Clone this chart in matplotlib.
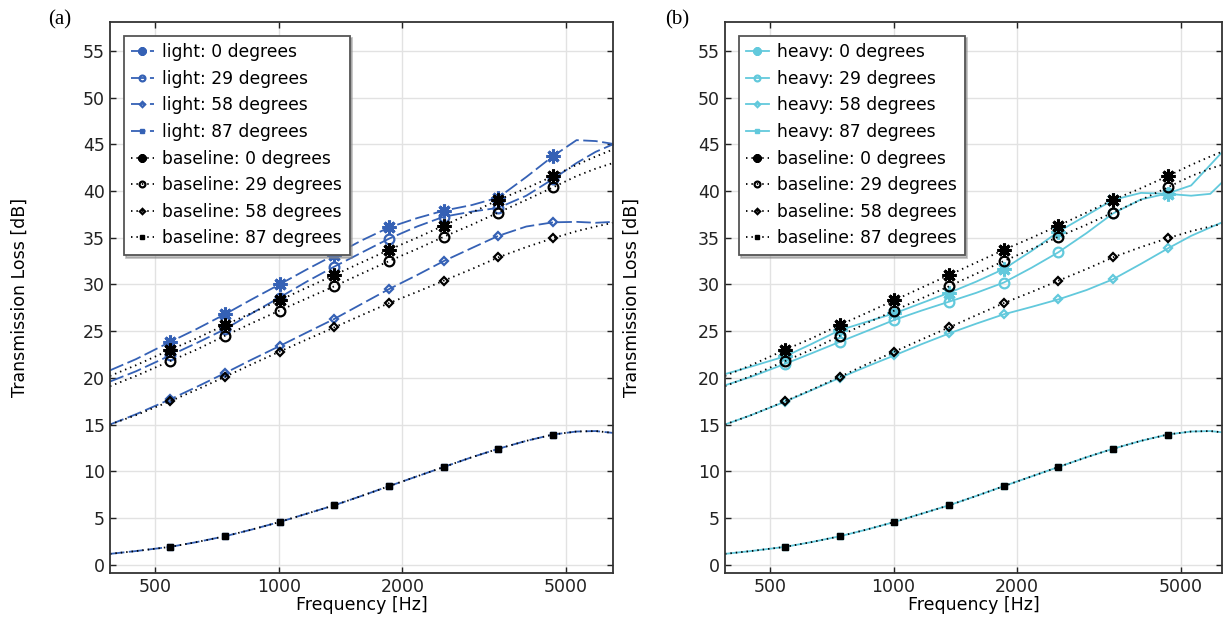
import numpy as np
import matplotlib
matplotlib.use("Agg")
import matplotlib.pyplot as plt
from matplotlib.ticker import FixedLocator, NullLocator

plt.rcParams["font.family"] = ["DejaVu Sans"]

# 频率网格 (Hz) 和标记点所在的下标
freq = [389, 450, 545, 630, 740, 860, 1005, 1170, 1365, 1590,
        1855, 2170, 2520, 2950, 3420, 4000, 4650, 5300, 5900, 6500]
mark_idx = [2, 4, 6, 8, 10, 12, 14, 16]

# baseline (黑色点线)
base_0 = [20.2, 21.35, 23.0, 24.2, 25.65, 26.95, 28.3, 29.65, 31.0, 32.35,
          33.7, 35.0, 36.3, 37.7, 39.05, 40.3, 41.6, 42.8, 43.7, 44.45]
base_29 = [19.1, 20.2, 21.8, 23.0, 24.5, 25.85, 27.2, 28.5, 29.8, 31.15,
           32.5, 33.8, 35.1, 36.4, 37.7, 39.05, 40.4, 41.6, 42.4, 43.0]
base_58 = [15.0, 16.0, 17.5, 18.7, 20.1, 21.45, 22.8, 24.1, 25.4, 26.7,
           28.0, 29.2, 30.4, 31.65, 32.9, 34.0, 34.95, 35.7, 36.2, 36.6]
base_87 = [1.15, 1.45, 1.9, 2.4, 3.03, 3.75, 4.56, 5.45, 6.35, 7.35,
           8.4, 9.45, 10.45, 11.5, 12.4, 13.25, 13.93, 14.25, 14.3, 14.1]

# light (蓝色虚线)
light_0 = [20.8, 22.0, 23.85, 25.2, 26.8, 28.4, 30.0, 31.6, 33.15, 34.7,
           36.1, 37.1, 37.9, 38.5, 39.3, 41.5, 43.75, 45.45, 45.35, 45.05]
light_29 = [19.6, 20.7, 22.4, 23.7, 25.2, 26.9, 28.6, 30.3, 31.9, 33.4,
            34.9, 36.2, 37.25, 37.8, 38.2, 39.5, 41.3, 43.0, 44.2, 45.0]
light_58 = [15.0, 16.1, 17.7, 19.0, 20.5, 21.95, 23.4, 24.85, 26.3, 27.9,
            29.5, 31.0, 32.5, 33.9, 35.2, 36.2, 36.65, 36.7, 36.6, 36.7]
light_87 = [1.15, 1.45, 1.9, 2.4, 3.03, 3.75, 4.56, 5.45, 6.35, 7.35,
            8.4, 9.45, 10.45, 11.5, 12.4, 13.25, 13.93, 14.25, 14.3, 14.1]

# heavy (青色实线)
heavy_0 = [20.4, 21.2, 22.3, 23.6, 25.1, 26.0, 26.9, 28.0, 29.1, 30.3,
           31.65, 33.6, 35.65, 37.4, 39.05, 39.8, 39.7, 39.5, 39.7, 41.5]
heavy_29 = [19.2, 20.1, 21.5, 22.6, 23.85, 25.0, 26.2, 27.2, 28.15, 29.1,
            30.2, 31.8, 33.45, 35.5, 37.6, 39.1, 39.75, 40.6, 42.8, 44.8]
heavy_58 = [15.0, 16.0, 17.45, 18.65, 20.0, 21.2, 22.4, 23.6, 24.75, 25.8,
            26.8, 27.6, 28.4, 29.4, 30.55, 32.2, 33.85, 35.2, 36.1, 36.9]
heavy_87 = [1.15, 1.45, 1.9, 2.4, 3.03, 3.75, 4.56, 5.45, 6.35, 7.35,
            8.4, 9.45, 10.45, 11.5, 12.4, 13.25, 13.93, 14.25, 14.3, 14.1]

angles = [0, 29, 58, 87]
x_ticks = [500, 1000, 2000, 5000]
y_ticks = list(range(0, 60, 5))

LIGHT_C = "#3561b5"
HEAVY_C = "#62c9dc"
GRID_C = "#e2e2e2"
FS = 12.5

# 每个角度对应的标记
markers = [
    dict(marker=(8, 2, 0), markersize=10, markeredgewidth=2.2),
    dict(marker="o", markersize=7, markeredgewidth=1.6, markerfacecolor="none"),
    dict(marker="D", markersize=4.5, markeredgewidth=1.6, markerfacecolor="none"),
    dict(marker="s", markersize=5, markeredgewidth=1.0),
]

fig = plt.figure(figsize=(12.23, 6.17), dpi=100)
W, H = 1223, 617
ax_a = fig.add_axes([110 / W, (H - 573) / H, 503 / W, 551 / H])
ax_b = fig.add_axes([725 / W, (H - 573) / H, 497 / W, 551 / H])


def setup_axes(ax, xmax, ylab_x):
    ax.set_xscale("log")
    ax.set_xlim(389, xmax)
    ax.set_ylim(-0.9, 58.1)
    ax.xaxis.set_major_locator(FixedLocator(x_ticks))
    ax.xaxis.set_minor_locator(NullLocator())
    ax.set_xticklabels([str(t) for t in x_ticks])
    ax.set_yticks(y_ticks)
    ax.grid(True, color=GRID_C, linewidth=1.0)
    ax.set_axisbelow(True)
    ax.tick_params(direction="in", length=4, width=1.0, top=True, right=True,
                   labelsize=FS, pad=3.5, colors="#222222")
    for s in ax.spines.values():
        s.set_color("#333333")
        s.set_linewidth(1.3)
    ax.set_xlabel("Frequency [Hz]", fontsize=FS, labelpad=0)
    ax.set_ylabel("Transmission Loss [dB]", fontsize=FS)
    ax.yaxis.set_label_coords(ylab_x, 0.5)


def draw_panel(ax, curves, name, color, style):
    for ang, vals, mk in zip(angles, curves, markers):
        ax.plot(freq, vals, color=color, linewidth=1.3, markevery=mark_idx,
                label=f"{name}: {ang} degrees", **style, **mk)
    for ang, vals, mk in zip(angles, [base_0, base_29, base_58, base_87], markers):
        ax.plot(freq, vals, color="black", linewidth=1.3, dashes=(0.8, 2.2),
                markevery=mark_idx, label=f"baseline: {ang} degrees", **mk)
    leg = ax.legend(loc="upper left", fontsize=12.3, labelspacing=0.5,
                    handlelength=1.3, handletextpad=0.5, borderpad=0.45,
                    borderaxespad=0.8, markerscale=0.6, fancybox=False,
                    shadow={"color": "#8a8a8a"}, framealpha=1.0)
    leg.get_frame().set_edgecolor("#555555")
    leg.get_frame().set_linewidth(1.3)


setup_axes(ax_a, 6500, (29 - 110) / 503)
setup_axes(ax_b, 6300, (641 - 725) / 497)
draw_panel(ax_a, [light_0, light_29, light_58, light_87], "light", LIGHT_C,
           dict(dashes=(8, 2.5)))
draw_panel(ax_b, [heavy_0, heavy_29, heavy_58, heavy_87], "heavy", HEAVY_C,
           dict(linestyle="-"))

fig.text(60 / W, 1 - 20 / H, "(a)", family="Liberation Serif", fontsize=15,
         ha="center", va="center")
fig.text(677 / W, 1 - 20 / H, "(b)", family="Liberation Serif", fontsize=15,
         ha="center", va="center")

fig.savefig("out.png", dpi=100)
